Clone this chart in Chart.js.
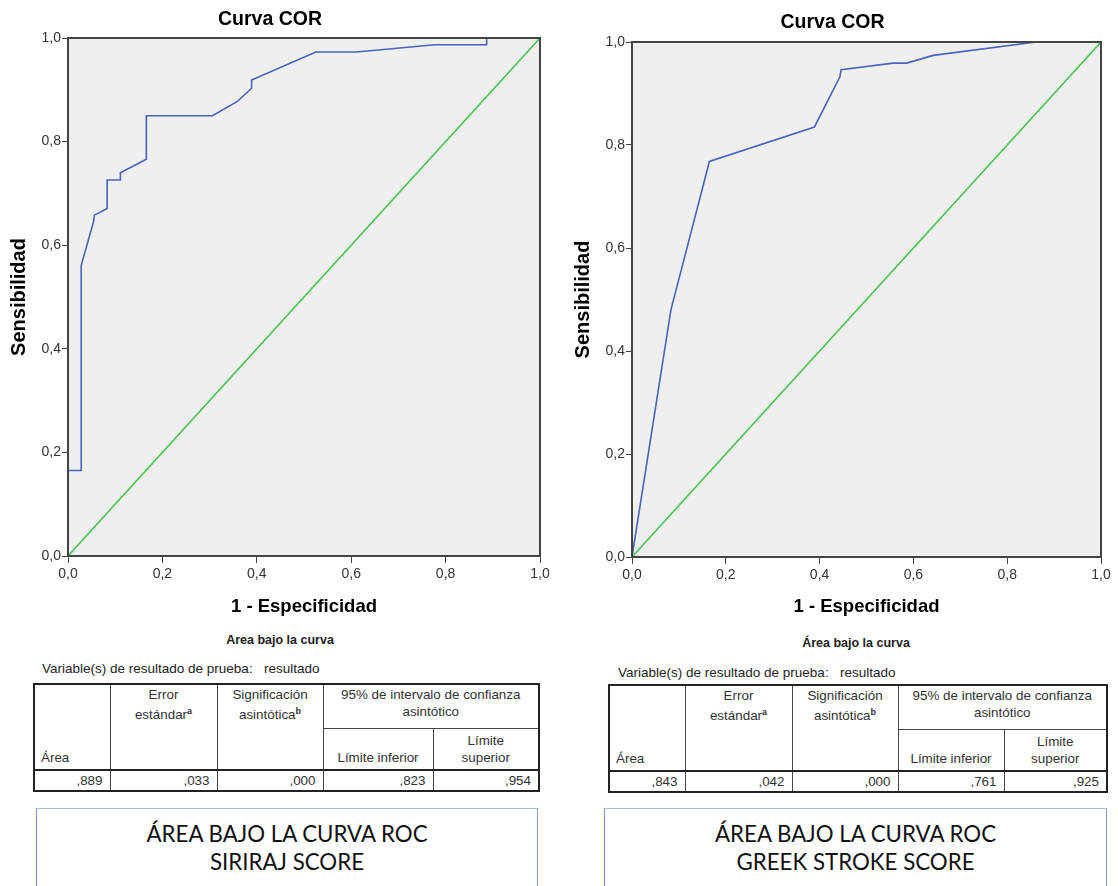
<!DOCTYPE html>
<html>
<head>
<meta charset="utf-8">
<script src="https://cdn.jsdelivr.net/npm/chart.js@4.4.1/dist/chart.umd.min.js"></script>
<style>
body{margin:0;background:#fff;font-family:"Liberation Sans",Arial,sans-serif;}
#page{position:relative;width:1118px;height:886px;overflow:hidden;}
canvas{position:absolute;top:0;}
.cap{position:absolute;font-size:13.5px;color:#222;white-space:pre;}
.cap.b{font-weight:bold;font-size:12.5px;}
table{position:absolute;border-collapse:collapse;table-layout:fixed;font-size:13.4px;color:#333;border:2px solid #222;}
td{border:1px solid #444;padding:0 4px 0 6px;line-height:17px;}
td.h{text-align:center;vertical-align:top;padding:1px 2px 0 2px;}
td.bot{vertical-align:bottom;padding-bottom:3px;}
tr.data td{border-top:2px solid #222;text-align:right;height:19px;padding-right:7px;}
sup{font-size:9px;font-weight:bold;}
.box{position:absolute;top:808px;height:100px;border:1.5px solid #7c9ccf;border-top-color:#a6bde0;text-align:center;
  font-family:Lato,"Open Sans",sans-serif;font-size:22.3px;line-height:28px;color:#111;box-sizing:border-box;padding-top:11px;}
</style>
</head>
<body>
<div id="page">
<canvas id="left" width="560" height="625" style="left:0"></canvas>
<canvas id="right" width="554" height="625" style="left:564px"></canvas>

<div class="cap b" style="left:0;width:560px;text-align:center;top:633px;">Area bajo la curva</div>
<div class="cap" style="left:42px;top:661px;">Variable(s) de resultado de prueba:   resultado</div>
<table style="left:33px;top:683px;width:505px;">
<colgroup><col style="width:76px"><col style="width:107px"><col style="width:106px"><col style="width:110px"><col style="width:106px"></colgroup>
<tr style="height:44px"><td rowspan="2" class="bot">Área</td><td rowspan="2" class="h">Error<br>estándar<sup>a</sup></td><td rowspan="2" class="h">Significación<br>asintótica<sup>b</sup></td><td colspan="2" class="h">95% de intervalo de confianza<br>asintótico</td></tr>
<tr style="height:42px"><td class="h bot" style="vertical-align:bottom">Límite inferior</td><td class="h bot" style="vertical-align:bottom">Límite<br>superior</td></tr>
<tr class="data"><td>,889</td><td>,033</td><td>,000</td><td>,823</td><td>,954</td></tr>
</table>
<div class="box" style="left:36px;width:502px;">ÁREA BAJO LA CURVA ROC<br>SIRIRAJ SCORE</div>

<div class="cap b" style="left:570px;width:572px;text-align:center;top:636px;">Área bajo la curva</div>
<div class="cap" style="left:618px;top:665px;">Variable(s) de resultado de prueba:   resultado</div>
<table style="left:608px;top:684px;width:498px;">
<colgroup><col style="width:76px"><col style="width:107px"><col style="width:106px"><col style="width:106px"><col style="width:103px"></colgroup>
<tr style="height:44px"><td rowspan="2" class="bot">Área</td><td rowspan="2" class="h">Error<br>estándar<sup>a</sup></td><td rowspan="2" class="h">Significación<br>asintótica<sup>b</sup></td><td colspan="2" class="h">95% de intervalo de confianza<br>asintótico</td></tr>
<tr style="height:42px"><td class="h bot" style="vertical-align:bottom">Límite inferior</td><td class="h bot" style="vertical-align:bottom">Límite<br>superior</td></tr>
<tr class="data"><td>,843</td><td>,042</td><td>,000</td><td>,761</td><td>,925</td></tr>
</table>
<div class="box" style="left:604px;width:503px;">ÁREA BAJO LA CURVA ROC<br>GREEK STROKE SCORE</div>
</div>

<script>
// ROC points: 1 - especificidad / sensibilidad
const sirirajFpr = [0, 0, 0.028, 0.028, 0.054, 0.056, 0.083, 0.083, 0.111, 0.111, 0.166, 0.166, 0.306, 0.358, 0.389, 0.389, 0.525, 0.611, 0.777, 0.887, 0.887, 1];
const sirirajTpr = [0, 0.165, 0.165, 0.561, 0.645, 0.658, 0.671, 0.726, 0.726, 0.740, 0.766, 0.850, 0.850, 0.877, 0.903, 0.919, 0.973, 0.973, 0.987, 0.987, 1, 1];
const greekFpr = [0, 0.083, 0.165, 0.389, 0.443, 0.446, 0.557, 0.586, 0.642, 0.862, 1];
const greekTpr = [0, 0.480, 0.768, 0.835, 0.932, 0.946, 0.959, 0.959, 0.974, 1, 1];
const refFpr = [0, 1];
const refTpr = [0, 1];
const axisTicks = [0, 0.2, 0.4, 0.6, 0.8, 1.0];

const FONT = "'Liberation Sans', Arial, sans-serif";

function pts(xs, ys){ return xs.map((x,i)=>({x:x, y:ys[i]})); }
function fmt(v){ return v.toFixed(1).replace('.', ','); }

// grey plot background and dark frame round the chart area
const framePlugin = {
  id:'frame',
  beforeDatasetsDraw(c){
    const a=c.chartArea, ctx=c.ctx;
    ctx.save(); ctx.fillStyle='#efefef'; ctx.fillRect(a.left,a.top,a.right-a.left,a.bottom-a.top); ctx.restore();
  },
  afterDraw(c){
    const a=c.chartArea, ctx=c.ctx;
    ctx.save(); ctx.strokeStyle='#444'; ctx.lineWidth=2;
    ctx.strokeRect(a.left,a.top,a.right-a.left,a.bottom-a.top); ctx.restore();
  }
};

function makeChart(id, xs, ys, padRight, titleTop, areaTop, xHeight){
  const titleLine = 19.5 * 1.2;
  return new Chart(document.getElementById(id), {
    type:'scatter',
    data:{datasets:[
      {data:pts(xs, ys), showLine:true, borderColor:'#4a62bd', borderWidth:1.6, pointRadius:0, fill:false, tension:0},
      {data:pts(refFpr, refTpr), showLine:true, borderColor:'#4fc356', borderWidth:1.6, pointRadius:0, fill:false}
    ]},
    options:{
      responsive:false, animation:false,
      layout:{padding:{left:0, right:padRight, top:0, bottom:0}},
      plugins:{
        legend:{display:false}, tooltip:{enabled:false},
        title:{display:true, text:'Curva COR', color:'#000', font:{family:FONT, size:19.5, weight:'bold'},
          padding:{top:titleTop, bottom:areaTop-titleTop-titleLine}}
      },
      scales:{
        x:{type:'linear', min:0, max:1,
          afterBuildTicks(s){ s.ticks = axisTicks.map(v=>({value:v})); },
          afterFit(s){ s.height = xHeight; },
          grid:{drawOnChartArea:false, drawTicks:true, tickLength:7, color:'#444'},
          border:{display:true, color:'#444', width:2},
          ticks:{callback:fmt, color:'#333', font:{family:FONT, size:14}, padding:3, maxRotation:0},
          title:{display:true, text:'1 - Especificidad', color:'#000', font:{family:FONT, size:18.5, weight:'bold'}, padding:{top:0, bottom:7}}
        },
        y:{type:'linear', min:0, max:1,
          afterBuildTicks(s){ s.ticks = axisTicks.map(v=>({value:v})); },
          afterFit(s){ s.width = 68; },
          grid:{drawOnChartArea:false, drawTicks:true, tickLength:6, color:'#444'},
          border:{display:true, color:'#444', width:2},
          ticks:{callback:fmt, color:'#333', font:{family:FONT, size:14}, padding:1},
          title:{display:true, text:'Sensibilidad', color:'#000', font:{family:FONT, size:20, weight:'bold'}, padding:{top:7, bottom:0}}
        }
      }
    },
    plugins:[framePlugin]
  });
}

makeChart('left', sirirajFpr, sirirajTpr, 20, 8, 38, 69);
makeChart('right', greekFpr, greekTpr, 17, 11, 42, 68);
</script>
</body>
</html>
